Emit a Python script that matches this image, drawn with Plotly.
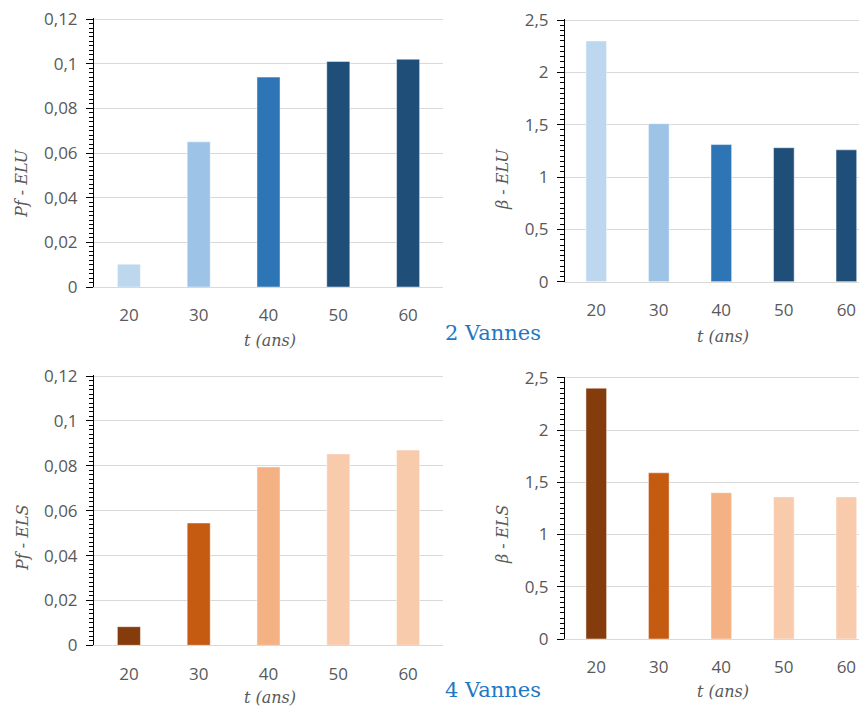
import plotly.graph_objects as go

years = ["20", "30", "40", "50", "60"]
pf_elu = [0.0102, 0.065, 0.094, 0.101, 0.102]
beta_elu = [2.30, 1.51, 1.31, 1.28, 1.26]
pf_els = [0.0083, 0.0545, 0.0795, 0.0853, 0.087]
beta_els = [2.40, 1.59, 1.40, 1.36, 1.36]

pf_tickvals = [0, 0.02, 0.04, 0.06, 0.08, 0.1, 0.12]
pf_ticktext = ["0", "0,02", "0,04", "0,06", "0,08", "0,1", "0,12"]
beta_tickvals = [0, 0.5, 1, 1.5, 2, 2.5]
beta_ticktext = ["0", "0,5", "1", "1,5", "2", "2,5"]

blue_colors = ["#BDD7EE", "#9DC3E6", "#2E75B6", "#1F4E79", "#1F4E79"]
orange_colors = ["#843C0C", "#C55A11", "#F4B183", "#F8CBAD", "#F8CBAD"]

OFF = 8  # page body margin
W, H = 867 - OFF, 709 - OFF
TICK_GRAY = "#595959"
GRID = "#D9D9D9"
TICK_FONT = dict(family="Open Sans", size=17, color=TICK_GRAY)
EPS = 1.004  # tiny headroom so the top gridline is drawn

def px_x(a, b):
    return [max(0, (a - OFF) / W), min(1, (b - OFF) / W)]

def px_y(top, bottom):
    return [max(0, (H - (bottom - OFF)) / H), min(1, (H - (top - OFF)) / H)]

def fx(x):
    return (x - OFF) / W

def fy(y):
    return 1 - (y - OFF) / H

panels = [
    ("x", "y", "y5", px_x(94, 443), px_y(18, 287), [-0.5, 4.5], pf_elu, blue_colors, pf_tickvals, pf_ticktext, [0, 0.12 * EPS], 0.002),
    ("x2", "y2", "y6", px_x(565, 867), px_y(19, 281.7), [-0.5, 4.33], beta_elu, blue_colors, beta_tickvals, beta_ticktext, [0, 2.5 * EPS], 0.05),
    ("x3", "y3", "y7", px_x(94, 443), px_y(375, 645.3), [-0.5, 4.5], pf_els, orange_colors, pf_tickvals, pf_ticktext, [0, 0.12 * EPS], 0.002),
    ("x4", "y4", "y8", px_x(565, 867), px_y(376.7, 639), [-0.5, 4.33], beta_els, orange_colors, beta_tickvals, beta_ticktext, [0, 2.5 * EPS], 0.05),
]

fig = go.Figure()
layout = dict(
    width=W, height=H,
    margin=dict(l=0, r=0, t=0, b=0, autoexpand=False),
    paper_bgcolor="white", plot_bgcolor="white",
    showlegend=False,
    bargap=0.67,
    font=dict(family="Open Sans", size=17, color=TICK_GRAY),
)

for i, (xa, ya, yo, xd, yd, xr, vals, cols, tv, tt, yr, mn) in enumerate(panels):
    fig.add_trace(go.Bar(
        x=years, y=vals, xaxis=xa, yaxis=ya,
        marker=dict(color=cols, line=dict(color="rgba(255,255,255,0.45)", width=1)),
        hoverinfo="skip",
    ))
    xkey = "xaxis" if xa == "x" else "xaxis" + xa[1:]
    ykey = "yaxis" if ya == "y" else "yaxis" + ya[1:]
    okey = "yaxis" + yo[1:]
    layout[xkey] = dict(
        domain=xd, anchor=ya, type="category", range=xr, automargin=False,
        showline=True, linecolor=GRID, linewidth=1,
        showgrid=False, ticks="", ticklabelstandoff=13,
        tickfont=TICK_FONT, fixedrange=True, ticklabeloverflow="allow",
    )
    layout[ykey] = dict(
        domain=yd, anchor=xa, range=yr, automargin=False,
        tickvals=tv, ticktext=tt,
        showgrid=True, gridcolor=GRID, gridwidth=1,
        showline=True, linecolor="black", linewidth=1,
        ticks="outside", ticklen=7, tickcolor="black", tickwidth=1,
        minor=dict(dtick=mn, ticks="outside", ticklen=4, tickcolor="black", tickwidth=1, showgrid=False),
        tickfont=TICK_FONT, ticklabeloverflow="allow",
        ticklabelstandoff=5,
        zeroline=False, fixedrange=True,
    )
    layout[okey] = dict(
        overlaying=ya, anchor=xa, matches=ya, side="left", automargin=False,
        tickvals=tv, showticklabels=False, showgrid=False, showline=False,
        ticks="inside", ticklen=5, tickcolor="black", tickwidth=1,
        minor=dict(dtick=mn, ticks="inside", ticklen=4, tickcolor="black", tickwidth=1, showgrid=False),
        zeroline=False, fixedrange=True,
    )

fig.update_layout(**layout)

title_font = dict(family="DejaVu Serif", size=16, color=TICK_GRAY, style="italic")
ann = []
for text, xc, yc in [("Pf - ELU", 22, 184), ("β - ELU", 502, 180), ("Pf - ELS", 22, 538), ("β - ELS", 502, 535)]:
    ann.append(dict(text=text, x=fx(xc), y=fy(yc), xref="paper", yref="paper",
                    textangle=-90, showarrow=False, font=title_font, xanchor="center", yanchor="middle"))
for xc, yc in [(270, 340), (723, 336), (270, 697), (723, 691)]:
    ann.append(dict(text="t (ans)", x=fx(xc), y=fy(yc), xref="paper", yref="paper",
                    showarrow=False, font=title_font, xanchor="center", yanchor="middle"))
for text, xc, yc in [("2 Vannes", 443, 333), ("4 Vannes", 443, 690)]:
    ann.append(dict(text=text, x=fx(xc), y=fy(yc), xref="paper", yref="paper",
                    showarrow=False, xanchor="left", yanchor="middle",
                    font=dict(family="DejaVu Serif", size=21, color="#1F78C4")))
fig.update_layout(annotations=ann)

fig.write_html("out.html")
